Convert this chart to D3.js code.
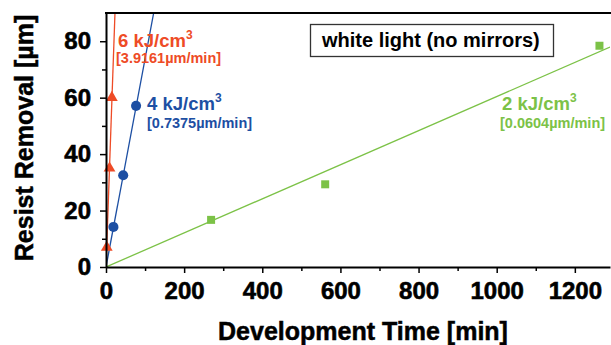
<!DOCTYPE html>
<html>
<head>
<meta charset="utf-8">
<script src="https://cdn.jsdelivr.net/npm/d3@7"></script>
<style>
  body { margin: 0; background: #fff; }
  svg { display: block; font-family: "Liberation Sans", Arial, sans-serif; }
</style>
</head>
<body>
<script>
// data
var xTicks = [0, 200, 400, 600, 800, 1000, 1200];
var yTicks = [0, 20, 40, 60, 80];

var redTime = [2, 9, 15];
var redRemoval = [7, 35, 60];
var blueTime = [19, 44, 77];
var blueRemoval = [14.2, 32.5, 57.1];
var greenTime = [269, 561, 1263];
var greenRemoval = [16.7, 29.3, 78.4];

var doses = ["6 kJ/cm", "4 kJ/cm", "2 kJ/cm"];
var rates = [3.9161, 0.7375, 0.0604];
var rateLabels = ["[3.9161µm/min]", "[0.7375µm/min]", "[0.0604µm/min]"];

var colors = ["#ee4b26", "#1d4fa3", "#7cc247"];

var w = 611, h = 345;
var mLeft = 106, mRight = 610, mTop = 13, mBottom = 267;

var svg = d3.select("body").append("svg")
	.attr("width", w)
	.attr("height", h);

var x = d3.scaleLinear().domain([0, 1290]).range([mLeft, mRight]);
var y = d3.scaleLinear().domain([0, 90]).range([mBottom, mTop]);

svg.append("defs").append("clipPath").attr("id", "plot")
	.append("rect")
	.attr("x", mLeft).attr("y", mTop)
	.attr("width", mRight - mLeft).attr("height", mBottom - mTop);

// fit lines through origin
var g = svg.append("g").attr("clip-path", "url(#plot)");
for (let i = 0; i < rates.length; i++) {
	var tEnd = Math.min(1290, 90 / rates[i]);
	g.append("line")
		.attr("x1", x(0)).attr("y1", y(0))
		.attr("x2", x(tEnd)).attr("y2", y(tEnd * rates[i]))
		.attr("stroke", colors[i])
		.attr("stroke-width", 1.3);
}

// markers
var sym = [d3.symbolTriangle, d3.symbolCircle, d3.symbolSquare];
var sizes = [60, 80, 64];
var sets = [
	d3.zip(redTime, redRemoval),
	d3.zip(blueTime, blueRemoval),
	d3.zip(greenTime, greenRemoval)
];
sets.forEach(function(pts, i){
	svg.append("g").selectAll("path")
		.data(pts)
		.enter()
		.append("path")
		.attr("transform", function(d){ return "translate(" + x(d[0]) + "," + y(d[1]) + ")"; })
		.attr("d", d3.symbol().type(sym[i]).size(sizes[i]))
		.attr("fill", colors[i]);
});

// axes
svg.append("g").attr("transform", "translate(0," + mBottom + ")")
	.call(d3.axisBottom(x).tickValues(xTicks).tickFormat(d3.format("d")).tickSize(6).tickSizeOuter(0).tickPadding(9));
svg.append("g").attr("transform", "translate(0," + mBottom + ")")
	.call(d3.axisBottom(x).tickValues(d3.range(100, 1300, 200)).tickSize(4).tickFormat(""))
	.select(".domain").remove();

svg.append("g").attr("transform", "translate(" + mLeft + ",0)")
	.call(d3.axisLeft(y).tickValues(yTicks).tickSize(6).tickSizeOuter(0).tickPadding(9));
svg.append("g").attr("transform", "translate(" + mLeft + ",0)")
	.call(d3.axisLeft(y).tickValues(d3.range(10, 90, 20)).tickSize(4).tickFormat(""))
	.select(".domain").remove();

svg.selectAll(".domain").attr("stroke", "#000").attr("stroke-width", 2);
svg.selectAll(".tick line").attr("stroke", "#000").attr("stroke-width", 1.5);
svg.selectAll(".tick text")
	.attr("fill", "#000")
	.attr("stroke", "#000")
	.attr("stroke-width", 0.6)
	.style("font-size", "24px")
	.style("font-weight", "bold")
	.style("font-family", "Liberation Sans, Arial, sans-serif");

// top frame
svg.append("line")
	.attr("x1", mLeft - 1).attr("x2", w)
	.attr("y1", mTop).attr("y2", mTop)
	.attr("stroke", "#000").attr("stroke-width", 2);

// axis titles
svg.append("text")
	.attr("x", 363).attr("y", 340)
	.attr("text-anchor", "middle")
	.attr("stroke", "#000").attr("stroke-width", 0.5)
	.style("font-size", "25px").style("font-weight", "bold")
	.text("Development Time [min]");

svg.append("text")
	.attr("transform", "translate(33,138) rotate(-90)")
	.attr("text-anchor", "middle")
	.attr("stroke", "#000").attr("stroke-width", 0.5)
	.style("font-size", "25px").style("font-weight", "bold")
	.text("Resist Removal [µm]");

// series labels
var labelPos = [[118, 47, 116, 63], [147, 110, 147, 128], [502, 110, 500, 128]];
labelPos.forEach(function(p, i){
	var t = svg.append("text")
		.attr("x", p[0]).attr("y", p[1])
		.attr("fill", colors[i])
		.style("font-size", "18.5px").style("font-weight", "bold");
	t.append("tspan").text(doses[i]);
	t.append("tspan").attr("dy", -8).style("font-size", "12px").text("3");
	svg.append("text")
		.attr("x", p[2]).attr("y", p[3])
		.attr("fill", colors[i])
		.style("font-size", "14.5px").style("font-weight", "bold")
		.text(rateLabels[i]);
});

// note box
svg.append("rect")
	.attr("x", 310.5).attr("y", 24.5)
	.attr("width", 243).attr("height", 32)
	.attr("fill", "#fff").attr("stroke", "#333").attr("stroke-width", 1.3);
svg.append("text")
	.attr("x", 322).attr("y", 47)
	.style("font-size", "20px").style("font-weight", "bold")
	.text("white light (no mirrors)");
</script>
</body>
</html>
